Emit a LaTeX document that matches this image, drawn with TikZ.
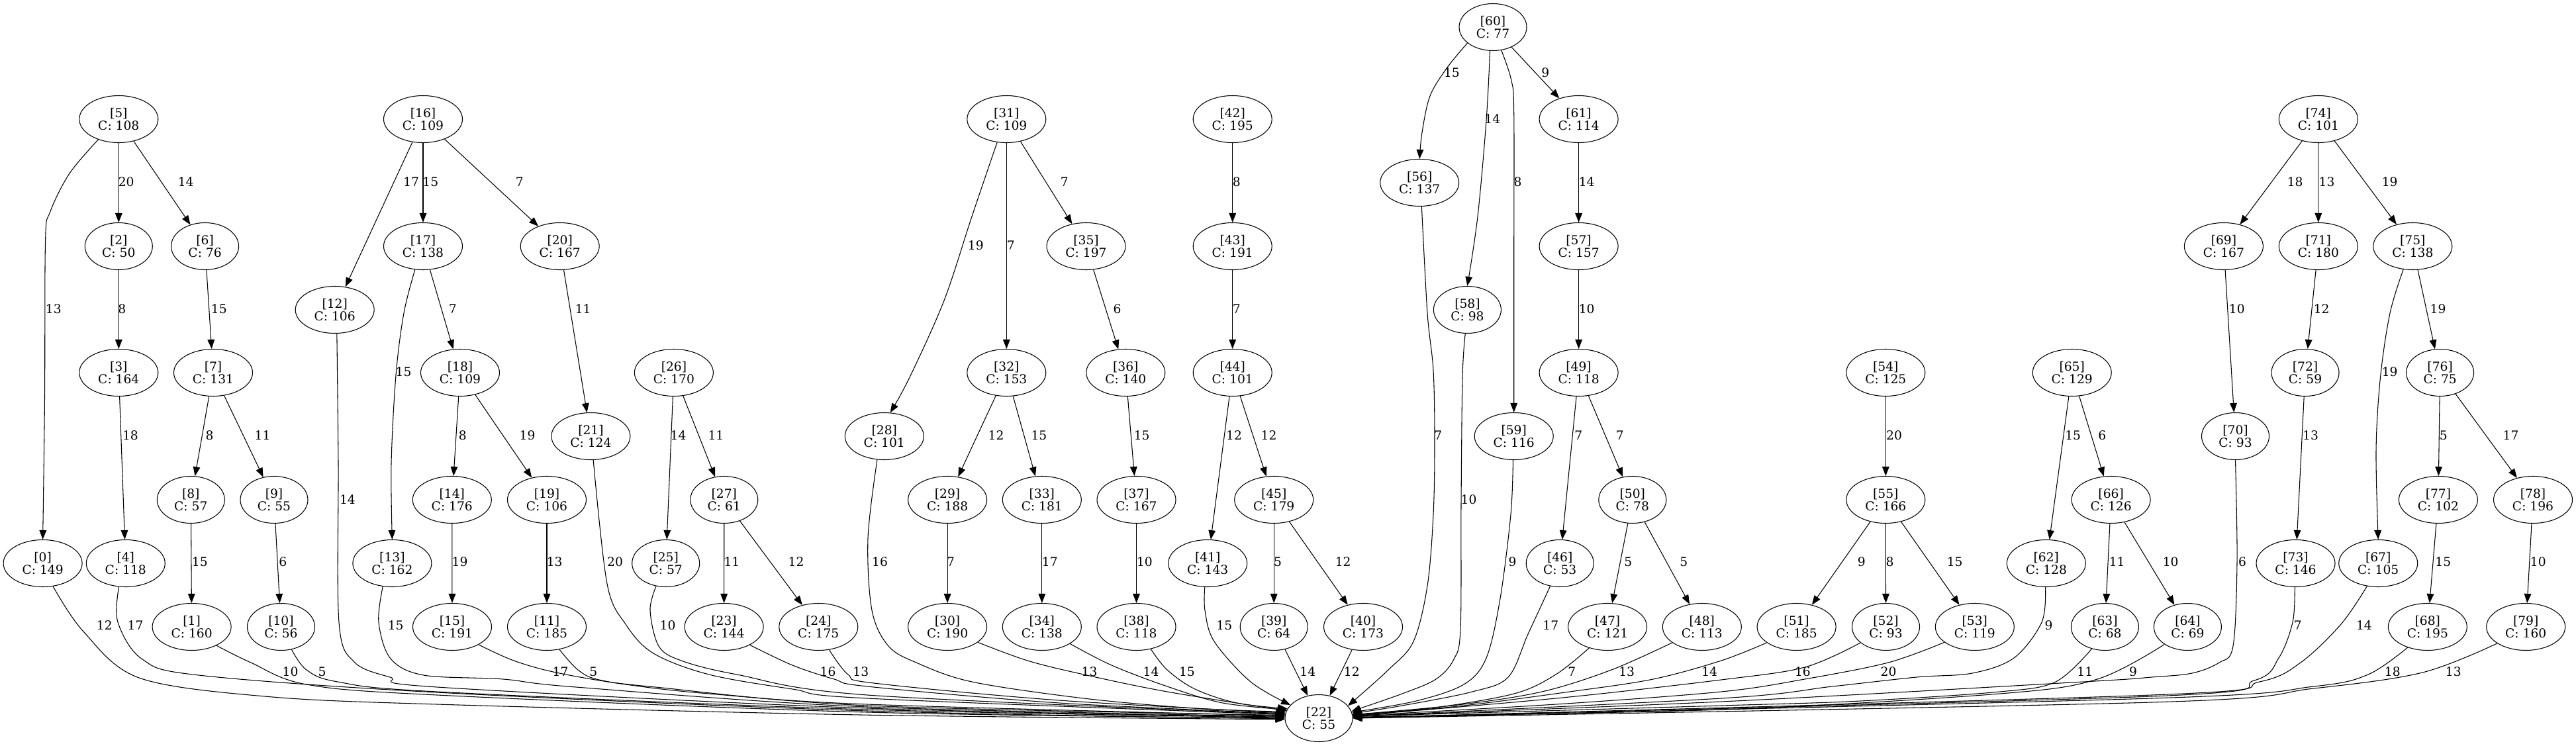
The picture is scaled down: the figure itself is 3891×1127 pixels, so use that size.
\documentclass[tikz,border=0pt]{standalone}
\usepackage{fontspec}
\setmainfont{DejaVu Serif}
\usetikzlibrary{shapes.geometric,arrows.meta}
\begin{document}
\begin{tikzpicture}[x=0.75pt,y=-0.75pt,
  nd/.style={ellipse, draw, line width=0.8pt, inner sep=1pt, minimum height=53.25pt, minimum width=89.25pt, align=center, font=\fontsize{14pt}{14.5pt}\selectfont},
  ndn/.style={nd, minimum width=76.5pt},
  lbl/.style={inner sep=0pt, font=\fontsize{14pt}{14.5pt}\selectfont},
  edg/.style={line width=0.8pt, -{Triangle[length=10.5pt,width=8pt]}},
  sm/.style={smooth, tension=0.55}]
\fill[white] (0,0) rectangle (3891,1127);
\useasboundingbox (0,0) rectangle (3891,1127);
% nodes
\node[nd]  (n0)  at (64.6,851)   {[0]\\C: 149};
\node[nd]  (n1)  at (289.6,947)  {[1]\\C: 160};
\node[ndn] (n2)  at (179.3,372)  {[2]\\C: 50};
\node[nd]  (n3)  at (179.3,563)  {[3]\\C: 164};
\node[nd]  (n4)  at (189.8,851)  {[4]\\C: 118};
\node[nd]  (n5)  at (179.3,180)  {[5]\\C: 108};
\node[ndn] (n6)  at (309.6,372)  {[6]\\C: 76};
\node[nd]  (n7)  at (322,563)    {[7]\\C: 131};
\node[ndn] (n8)  at (288.3,755)  {[8]\\C: 57};
\node[ndn] (n9)  at (414,755)    {[9]\\C: 55};
\node[ndn] (n10) at (424.5,947)  {[10]\\C: 56};
\node[nd]  (n11) at (826,947)    {[11]\\C: 185};
\node[nd]  (n12) at (505.7,468)  {[12]\\C: 106};
\node[nd]  (n13) at (592.4,851)  {[13]\\C: 162};
\node[nd]  (n14) at (682.8,755)  {[14]\\C: 176};
\node[nd]  (n15) at (683,947)    {[15]\\C: 191};
\node[nd]  (n16) at (639,180)    {[16]\\C: 109};
\node[nd]  (n17) at (639,372)    {[17]\\C: 138};
\node[nd]  (n18) at (695,563)    {[18]\\C: 109};
\node[nd]  (n19) at (826,755)    {[19]\\C: 106};
\node[nd]  (n20) at (845.7,372)  {[20]\\C: 167};
\node[nd]  (n21) at (892.4,659)  {[21]\\C: 124};
\node[ndn] (n22) at (1992,1085)  {[22]\\C: 55};
\node[nd]  (n23) at (1093.6,947) {[23]\\C: 144};
\node[nd]  (n24) at (1236.3,947) {[24]\\C: 175};
\node[ndn] (n25) at (1005.7,851) {[25]\\C: 57};
\node[nd]  (n26) at (1017.9,563) {[26]\\C: 170};
\node[ndn] (n27) at (1093.8,755) {[27]\\C: 61};
\node[nd]  (n28) at (1335.8,659) {[28]\\C: 101};
\node[nd]  (n29) at (1431.1,755) {[29]\\C: 188};
\node[nd]  (n30) at (1431.1,947) {[30]\\C: 190};
\node[nd]  (n31) at (1520.3,180) {[31]\\C: 109};
\node[nd]  (n32) at (1520.3,563) {[32]\\C: 153};
\node[nd]  (n33) at (1573.8,755) {[33]\\C: 181};
\node[nd]  (n34) at (1573.8,947) {[34]\\C: 138};
\node[nd]  (n35) at (1640.5,372) {[35]\\C: 197};
\node[nd]  (n36) at (1700.3,563) {[36]\\C: 140};
\node[nd]  (n37) at (1716.5,755) {[37]\\C: 167};
\node[nd]  (n38) at (1716.5,947) {[38]\\C: 118};
\node[ndn] (n39) at (1924.2,947) {[39]\\C: 64};
\node[nd]  (n40) at (2059,947)   {[40]\\C: 173};
\node[nd]  (n41) at (1824.2,851) {[41]\\C: 143};
\node[nd]  (n42) at (1861.7,180) {[42]\\C: 195};
\node[nd]  (n43) at (1861.7,372) {[43]\\C: 191};
\node[nd]  (n44) at (1861.7,563) {[44]\\C: 101};
\node[nd]  (n45) at (1924.2,755) {[45]\\C: 179};
\node[ndn] (n46) at (2356.2,851) {[46]\\C: 53};
\node[nd]  (n47) at (2428.1,947) {[47]\\C: 121};
\node[nd]  (n48) at (2570.8,947) {[48]\\C: 113};
\node[nd]  (n49) at (2384.6,563) {[49]\\C: 118};
\node[ndn] (n50) at (2465.8,755) {[50]\\C: 78};
\node[nd]  (n51) at (2713.6,947) {[51]\\C: 185};
\node[ndn] (n52) at (2848.5,947) {[52]\\C: 93};
\node[nd]  (n53) at (2982.8,947) {[53]\\C: 119};
\node[nd]  (n54) at (2848.3,563) {[54]\\C: 125};
\node[nd]  (n55) at (2848.3,755) {[55]\\C: 166};
\node[nd]  (n56) at (2144.2,276) {[56]\\C: 137};
\node[nd]  (n57) at (2384.6,372) {[57]\\C: 157};
\node[ndn] (n58) at (2216.4,468) {[58]\\C: 98};
\node[nd]  (n59) at (2286.7,659) {[59]\\C: 116};
\node[ndn] (n60) at (2255,41)    {[60]\\C: 77};
\node[nd]  (n61) at (2384.6,180) {[61]\\C: 114};
\node[nd]  (n62) at (3090.8,851) {[62]\\C: 128};
\node[ndn] (n63) at (3179.4,947) {[63]\\C: 68};
\node[ndn] (n64) at (3304.4,947) {[64]\\C: 69};
\node[nd]  (n65) at (3129.7,563) {[65]\\C: 129};
\node[nd]  (n66) at (3188.6,755) {[66]\\C: 126};
\node[nd]  (n67) at (3592.2,851) {[67]\\C: 105};
\node[nd]  (n68) at (3666.8,947) {[68]\\C: 195};
\node[nd]  (n69) at (3358.9,372) {[69]\\C: 167};
\node[ndn] (n70) at (3376.5,659) {[70]\\C: 93};
\node[nd]  (n71) at (3501.8,372) {[71]\\C: 180};
\node[ndn] (n72) at (3482,563)   {[72]\\C: 59};
\node[nd]  (n73) at (3467.5,851) {[73]\\C: 146};
\node[nd]  (n74) at (3501.8,180) {[74]\\C: 101};
\node[nd]  (n75) at (3644.3,372) {[75]\\C: 138};
\node[ndn] (n76) at (3685.6,563) {[76]\\C: 75};
\node[nd]  (n77) at (3682.9,755) {[77]\\C: 102};
\node[nd]  (n78) at (3826,755)   {[78]\\C: 196};
\node[nd]  (n79) at (3815.2,947) {[79]\\C: 160};
% straight edges
\foreach \a/\b in {5/2,5/6,2/3,6/7,3/4,7/8,7/9,8/1,9/10,
  16/12,16/17,16/20,17/18,18/14,18/19,14/15,19/11,20/21,
  26/25,26/27,27/23,27/24,
  31/32,31/35,32/29,32/33,35/36,36/37,37/38,29/30,33/34,
  42/43,43/44,44/41,44/45,45/39,45/40,
  60/61,61/57,57/49,49/46,49/50,50/47,50/48,
  54/55,55/51,55/52,55/53,
  65/62,65/66,66/63,66/64,
  74/69,74/71,74/75,69/70,71/72,72/73,75/76,76/77,76/78,77/68,78/79,
  39/22,40/22}
  \draw[edg] (n\a) -- (n\b);
% curved tree edges
\draw[edg] plot[sm] coordinates {(n5.225.6) (105,262) (75.8,320) (68.6,364) (67.5,600) (n0.north)};
\draw[edg] plot[sm] coordinates {(n17.-109) (610,473) (598,567) (591,700) (n13.north)};
\draw[edg] plot[sm] coordinates {(n31.-112) (1468,327) (1426,454) (1374,570) (n28.76)};
\draw[edg] plot[sm] coordinates {(n60.-148.6) (2186,102) (2160,145) (2148,200) (n56.north)};
\draw[edg] plot[sm] coordinates {(n60.-97.7) (2245,182) (2232,327) (n58.north)};
\draw[edg] plot[sm] coordinates {(n60.-70) (2282.5,120) (2286.7,170) (2286.7,400) (n59.north)};
\draw[edg] plot[sm] coordinates {(n75.-112) (3610,473) (3595.5,570) (3589,680) (n67.north)};
% edges into [22], left side
\draw[edg] plot[sm] coordinates {(n0.-66) (126,954) (210,1024) (400,1052) (660,1064) (1300,1080) (n22.182)};
\draw[edg] plot[sm] coordinates {(n4.-106) (178,940) (215,996) (300,1020) (660,1046) (1310,1074) (n22.181)};
\draw[edg] plot[sm] coordinates {(n1.-37) (379,1001) (463,1034) (660,1050) (1310,1076) (n22.180)};
\draw[edg] plot[sm] coordinates {(n10.-65) (463,1012) (510,1030) (660,1045) (1310,1072) (n22.179)};
\draw[edg] plot[sm] coordinates {(n12.-85) (511,700) (512,940) (535,1000) (589,1023) (660,1038) (1310,1070) (n22.178)};
\draw[edg] plot[sm] coordinates {(n13.-112) (572,940) (590,995) (640,1020) (760,1026) (870,1038) (1310,1068) (n22.177)};
\draw[edg] plot[sm] coordinates {(n15.-34) (776,998) (840,1016) (945,1034) (1071,1048) (1310,1064) (n22.176)};
\draw[edg] plot[sm] coordinates {(n11.-61) (873,1012) (905,1027) (990,1038) (1310,1066) (n22.175)};
\draw[edg] plot[sm] coordinates {(n21.-84) (917,882) (945,943) (987,987) (1071,1019) (1197,1041) (1310,1055) (n22.174)};
\draw[edg] plot[sm] coordinates {(n25.-113) (982,922) (995,976) (1029,998) (1113,1019) (1310,1050) (n22.173)};
\draw[edg] plot[sm] coordinates {(n23.-35) (1197,1005) (1260,1026) (1310,1037) (1600,1062) (n22.172)};
\draw[edg] plot[sm] coordinates {(n24.-65) (1281,1019) (1320,1032) (1600,1058) (n22.171)};
\draw[edg] plot[sm] coordinates {(n28.-107) (1311,813) (1317,922) (1342,976) (1384,1001) (1468,1030) (1637,1055) (1805,1070) (n22.169)};
\draw[edg] plot[sm] coordinates {(n30.-27) (1552,998) (1637,1019) (1763,1045) (n22.167)};
\draw[edg] plot[sm] coordinates {(n34.-31) (1679,1005) (1763,1037) (1847,1062) (n22.165)};
\draw[edg] plot[sm] coordinates {(n38.-57) (1763,1012) (1805,1041) (1868,1062) (n22.163)};
\draw[edg] plot[sm] coordinates {(n41.-97) (1820,922) (1834,969) (1889,1030) (n22.155)};
% edges into [22], right side
\draw[edg] plot[sm] coordinates {(n56.-85) (2156,473) (2165,560) (2167,668) (2165,777) (2156,885) (2135,969) (2097,1012) (n22.23)};
\draw[edg] plot[sm] coordinates {(n58.-95) (2209,570) (2207,760) (2206,950) (2196,996) (2169,1026) (2118,1048) (n22.12)};
\draw[edg] plot[sm] coordinates {(n59.-92) (2282,777) (2266,904) (2245,994) (2211,1034) (2139,1059) (n22.10)};
\draw[edg] plot[sm] coordinates {(n46.-113) (2308,958) (2278,1023) (2224,1045) (2118,1066) (n22.8)};
\draw[edg] plot[sm] coordinates {(n47.-131) (2350,1019) (2287,1048) (2160,1070) (n22.6)};
\draw[edg] plot[sm] coordinates {(n48.-152) (2434,1012) (2329,1045) (2202,1065) (n22.6)};
\draw[edg] plot[sm] coordinates {(n51.-152) (2600,998) (2497,1026) (2371,1045) (2202,1067) (n22.5)};
\draw[edg] plot[sm] coordinates {(n52.-148) (2726,1008) (2600,1027) (2350,1055) (n22.4)};
\draw[edg] plot[sm] coordinates {(n53.-153) (2852,1001) (2726,1026) (2600,1045) (2350,1064) (n22.4)};
\draw[edg] plot[sm] coordinates {(n62.-92) (3084,940) (3042,994) (2979,1017) (2895,1023) (2768,1037) (2600,1055) (n22.3)};
\draw[edg] plot[sm] coordinates {(n63.-121) (3105,1030) (3021,1045) (2810,1059) (2600,1066) (n22.3)};
\draw[edg] plot[sm] coordinates {(n64.-143) (3168,1026) (3021,1048) (2600,1072) (n22.2)};
\draw[edg] plot[sm] coordinates {(n70.-90) (3379,849) (3373,976) (3352,1001) (3311,1017) (3250,1023) (3147,1030) (2600,1060) (n22.3)};
\draw[edg] plot[sm] coordinates {(n73.-92) (3463,940) (3442,994) (3405,1028) (3250,1052) (n22.1)};
\draw[edg] plot[sm] coordinates {(n67.-116) (3536,943) (3475,1001) (3413,1030) (3250,1050) (n22.1)};
\draw[edg] plot[sm] coordinates {(n68.-134) (3577,1019) (3495,1037) (3250,1055) (n22.0)};
\draw[edg] plot[sm] coordinates {(n79.-150) (3659,1016) (3495,1040) (3250,1061) (n22.0)};
% edge labels
\foreach \t/\x/\y [count=\i] in {
 20/190.7/274.5, 14/280.7/274.5, 13/80.8/466.4, 8/184.4/466.4, 15/330.8/466.4,
 17/621.2/274.5, 15/650.3/274.5, 15/609.5/561.6,
 18/197/657.6, 8/316.5/657.6, 11/396.5/657.6, 14/524.9/754.2, 15/301.8/848.6, 6/427.2/848.6,
 12/157.8/944.4, 17/204.6/944.4, 15/597.7/944.4, 10/438.6/1014.5, 5/486.6/1014.5,
 7/784.7/274.5, 7/683.7/466.4, 11/880.7/466.4,
 8/698.8/657.6, 19/796.5/657.6, 14/1024.6/657.6, 11/1081.4/657.6,
 19/694.6/848.6, 13/837.7/848.6, 20/929/848.6, 11/1105.4/848.6, 12/1202.6/848.6,
 10/1008.6/944.4, 17/846.6/1014.5, 5/896.2/1014.5, 16/1250.6/1014.5, 13/1300.3/1014.5,
 7/1607.7/274.5, 8/1867.8/274.5, 19/1473.8/370.8, 7/1526.9/370.8, 6/1687.6/466.4, 7/1867.8/466.4,
 12/1504.6/657.6, 15/1569.4/657.6, 15/1724.7/657.6, 12/1864/657.6, 12/1916.6/657.6,
 16/1329/848.6, 7/1436/848.6, 17/1585.8/848.6, 10/1728.9/848.6, 5/1930/848.6,
 15/1849.3/944.4, 13/1645.6/1014.5, 14/1738.6/1014.5, 15/1792.9/1014.5,
 15/2192.9/109.4, 9/2334.3/109.4, 14/2254.3/179.2, 8/2292.6/274.5, 14/2396.6/274.5, 10/2396.6/466.4,
 7/2172.2/657.6, 7/2384.4/657.6, 7/2446.7/657.6, 10/2218.5/754.2,
 12/2028.7/848.6, 9/2284.6/848.6, 5/2459.3/848.6, 5/2543.4/848.6, 17/2342.3/944.4,
 14/1975.3/1014.5, 12/2041.8/1014.5, 7/2374.3/1014.5, 13/2457.2/1014.5, 14/2582.2/1014.5,
 20/2861/657.6, 15/3131.2/657.6, 6/3175.4/657.6,
 9/2811.7/848.6, 8/2854.6/848.6, 15/2952.7/848.6, 11/3197.7/848.6, 9/3094.6/944.4,
 16/2722.9/1014.5, 20/2852.5/1014.5, 11/3149.3/1014.5, 9/3222.1/1014.5,
 18/3466.7/274.5, 13/3514.5/274.5, 19/3609.7/274.5, 10/3378.8/466.4, 12/3506.7/466.4, 19/3682.5/466.4,
 19/3609.7/561.6, 13/3490/657.6, 5/3690.7/657.6, 17/3792.5/657.6,
 10/3278.6/848.6, 6/3387/848.6, 15/3690.3/848.6, 10/3833.8/848.6,
 7/3470.8/944.4, 14/3570.9/944.4, 18/3613.8/1014.5, 13/3705.8/1014.5}
 \node[lbl] (lab\i) at (\x,\y) {\t};
\end{tikzpicture}
\end{document}
